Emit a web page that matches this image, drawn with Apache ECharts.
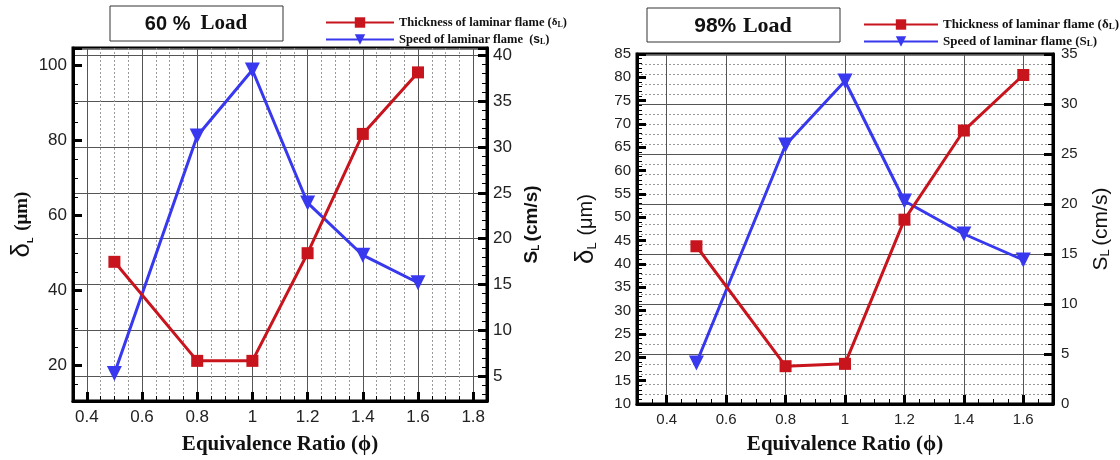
<!DOCTYPE html>
<html><head><meta charset="utf-8">
<script src="https://cdn.jsdelivr.net/npm/echarts@6/dist/echarts.min.js"></script>
<style>html,body{margin:0;padding:0;background:#fff}#c{width:1120px;height:460px}</style>
</head><body><div id="c"></div>
<script>
// ---- data ----
const phi = [0.5, 0.8, 1.0, 1.2, 1.4, 1.6];
const thickness60 = [47.7, 21.3, 21.3, 50.0, 81.8, 98.2];   // δL (μm), 60% load
const speed60 = [5.3, 31.2, 38.4, 23.9, 18.2, 15.2];          // SL (cm/s), 60% load
const thickness98 = [43.8, 18.1, 18.6, 49.5, 68.6, 80.5];     // δL (μm), 98% load
const speed98 = [4.1, 25.9, 32.3, 20.3, 17.0, 14.4];          // SL (cm/s), 98% load
const titles = ['60 %', '98%'];
const seriesNames = ['Thickness of laminar flame', 'Speed of laminar flame'];
const xTitle = 'Equivalence Ratio (ϕ)';

const SANS = 'Liberation Sans', SERIF = 'Liberation Serif';
const RED = '#c8141c', BLUE = '#3838ee';
const pairs = (xs, ys) => xs.map((x, i) => [x, ys[i]]);
const isMult = (v, step) => Math.abs(v / step - Math.round(v / step)) < 1e-6;

const chart = echarts.init(document.getElementById('c'), null, {renderer: 'canvas'});

function xAxis(gi, min, max, fs, minorSplit, gap) {
  return {
    type: 'value', gridIndex: gi, min, max, splitNumber: 7,
    axisLine: {show: true, lineStyle: {color: '#000', width: 3}},
    axisTick: {show: true, inside: true, length: 9, lineStyle: {color: '#000', width: 3}},
    minorTick: {show: true, splitNumber: 4, length: 5, lineStyle: {color: '#000', width: 1}},
    splitLine: {show: true, lineStyle: {color: '#555', width: 1}},
    minorSplitLine: {show: minorSplit, lineStyle: {color: '#999', width: 1, type: [2, 2]}},
    axisLabel: {fontFamily: SANS, fontSize: fs, color: '#222', margin: 8,
      formatter: v => isMult(v, 0.2) ? String(+v.toFixed(2)) : ''},
    name: xTitle, nameLocation: 'middle', nameGap: gap,
    nameTextStyle: {fontFamily: SERIF, fontWeight: 'bold', fontSize: 21, color: '#111'}
  };
}
function yAxis(gi, pos, min, max, opts) {
  return Object.assign({
    type: 'value', gridIndex: gi, position: pos, min, max,
    axisLine: {show: true, lineStyle: {color: '#000', width: 3}},
    axisTick: {show: true, inside: true, length: 9, lineStyle: {color: '#000', width: 3}},
    minorTick: {show: true, splitNumber: 4, length: 5, lineStyle: {color: '#000', width: 1}},
    splitLine: {show: false},
    nameLocation: 'middle', nameRotate: 90
  }, opts);
}

const option = {
  animation: false,
  backgroundColor: '#fff',
  grid: [
    {left: 73, top: 48, width: 414, height: 354, show: true, borderColor: '#000', borderWidth: 3, backgroundColor: '#fff'},
    {left: 637, top: 54, width: 416, height: 364, show: true, borderColor: '#000', borderWidth: 3, backgroundColor: '#fff'}
  ],
  xAxis: [xAxis(0, 0.35, 1.85, 17, true, 33), xAxis(1, 0.3, 1.7, 15, false, 30)],
  yAxis: [
    yAxis(0, 'left', 10.6, 104.7, {splitNumber: 5,
      axisLabel: {fontFamily: SANS, fontSize: 17, color: '#222', margin: 6, formatter: v => isMult(v, 20) ? String(v) : ''},
      name: '{d|δ}{l|L}  {u|(μm)}', nameGap: 31,
      nameTextStyle: {color: '#111', rich: {d: {fontFamily: SANS, fontSize: 26, color: '#111'}, l: {fontFamily: SANS, fontSize: 9, fontWeight: 'bold', color: '#111', verticalAlign: 'bottom', padding: [8, 0, 0, 0]}, u: {fontFamily: SERIF, fontWeight: 'bold', fontSize: 19, color: '#111'}}}}),
    yAxis(0, 'right', 2.3, 40.8, {splitNumber: 8,
      minorTick: {show: true, splitNumber: 5, length: 5, lineStyle: {color: '#000', width: 1}},
      splitLine: {show: true, lineStyle: {color: '#555', width: 1}},
      axisLabel: {fontFamily: SANS, fontSize: 17, color: '#222', margin: 6, formatter: v => isMult(v, 5) ? String(v) : ''},
      name: '{s|S}{l|L} {s|(cm/s)}', nameGap: 35,
      nameTextStyle: {color: '#111', rich: {s: {fontFamily: SANS, fontWeight: 'bold', fontSize: 19, color: '#111'}, l: {fontFamily: SANS, fontWeight: 'bold', fontSize: 10, color: '#111', verticalAlign: 'bottom', padding: [8, 0, 0, 0]}}}}),
    yAxis(1, 'left', 10, 85, {interval: 5,
      minorTick: {show: true, splitNumber: 5, length: 5, lineStyle: {color: '#000', width: 1}},
      axisLabel: {fontFamily: SANS, fontSize: 15, color: '#222', margin: 6},
      name: '{d|δ}{l|L}  {u|(μm)}', nameGap: 38,
      nameTextStyle: {color: '#111', rich: {d: {fontFamily: SANS, fontSize: 26, color: '#111'}, l: {fontFamily: SANS, fontSize: 13, color: '#111', verticalAlign: 'bottom', padding: [8, 0, 0, 0]}, u: {fontFamily: SANS, fontSize: 20, color: '#111'}}}}),
    yAxis(1, 'right', 0, 35, {interval: 5,
      minorTick: {show: true, splitNumber: 5, length: 5, lineStyle: {color: '#000', width: 1}},
      splitLine: {show: true, lineStyle: {color: '#555', width: 1}},
      minorSplitLine: {show: true, lineStyle: {color: '#999', width: 1, type: [2, 2]}},
      axisLabel: {fontFamily: SANS, fontSize: 15, color: '#222', margin: 8},
      name: '{s|S}{l|L} {s|(cm/s)}', nameGap: 38,
      nameTextStyle: {color: '#111', rich: {s: {fontFamily: SANS, fontSize: 21, color: '#111'}, l: {fontFamily: SANS, fontSize: 13, color: '#111', verticalAlign: 'bottom', padding: [8, 0, 0, 0]}}}})
  ],
  legend: [
    {left: 320, top: 11, orient: 'vertical', itemWidth: 68, itemHeight: 13, itemGap: 4, data: seriesNames,
      formatter: n => n === seriesNames[0] ? n + ' ({g|δ}{l|L})' : n + '  ({b|s}{l|L})',
      textStyle: {fontFamily: SERIF, fontWeight: 'bold', fontSize: 12.5, color: '#111', padding: [0, 0, 0, 0],
        rich: {g: {fontFamily: SERIF, fontSize: 11, color: '#111'}, l: {fontFamily: SERIF, fontSize: 8, color: '#111', verticalAlign: 'bottom'}, b: {fontFamily: SANS, fontWeight: 'bold', fontSize: 12, color: '#111'}}}},
    {left: 858, top: 13, orient: 'vertical', itemWidth: 74, itemHeight: 13, itemGap: 4, data: seriesNames,
      formatter: n => n === seriesNames[0] ? n + ' ({g|δ}{l|L})' : n + ' ({g|S}{l|L})',
      textStyle: {fontFamily: SERIF, fontWeight: 'bold', fontSize: 13, color: '#111',
        rich: {g: {fontFamily: SERIF, fontSize: 13, color: '#111'}, l: {fontFamily: SERIF, fontSize: 9, color: '#111', verticalAlign: 'bottom'}}}}
  ],
  graphic: [
    {type: 'rect', shape: {x: 110, y: 6, width: 173, height: 35}, style: {fill: '#fff', stroke: '#333', lineWidth: 1}},
    {type: 'text', x: 196, y: 24, style: {text: '{a|' + titles[0] + '}   {b|Load}', align: 'center', verticalAlign: 'middle',
      rich: {a: {fontFamily: SANS, fontWeight: 'bold', fontSize: 20, fill: '#111'}, b: {fontFamily: SERIF, fontWeight: 'bold', fontSize: 21, fill: '#111'}}}},
    {type: 'rect', shape: {x: 647, y: 8, width: 193, height: 34}, style: {fill: '#fff', stroke: '#333', lineWidth: 1}},
    {type: 'text', x: 743, y: 26, style: {text: '{a|' + titles[1] + '}  {b|Load}', align: 'center', verticalAlign: 'middle',
      rich: {a: {fontFamily: SANS, fontWeight: 'bold', fontSize: 21, fill: '#111'}, b: {fontFamily: SERIF, fontWeight: 'bold', fontSize: 22, fill: '#111'}}}}
  ],
  series: [
    {name: seriesNames[1], type: 'line', xAxisIndex: 0, yAxisIndex: 1, data: pairs(phi, speed60),
      symbol: 'triangle', symbolRotate: 180, symbolSize: 15, lineStyle: {color: BLUE, width: 3}, itemStyle: {color: BLUE}, z: 3},
    {name: seriesNames[0], type: 'line', xAxisIndex: 0, yAxisIndex: 0, data: pairs(phi, thickness60),
      symbol: 'rect', symbolSize: 12, lineStyle: {color: RED, width: 3}, itemStyle: {color: RED}, z: 4},
    {name: seriesNames[1], type: 'line', xAxisIndex: 1, yAxisIndex: 3, data: pairs(phi, speed98),
      symbol: 'triangle', symbolRotate: 180, symbolSize: 15, lineStyle: {color: BLUE, width: 3}, itemStyle: {color: BLUE}, z: 3},
    {name: seriesNames[0], type: 'line', xAxisIndex: 1, yAxisIndex: 2, data: pairs(phi, thickness98),
      symbol: 'rect', symbolSize: 12, lineStyle: {color: RED, width: 3}, itemStyle: {color: RED}, z: 4}
  ]
};
chart.setOption(option);
</script></body></html>
